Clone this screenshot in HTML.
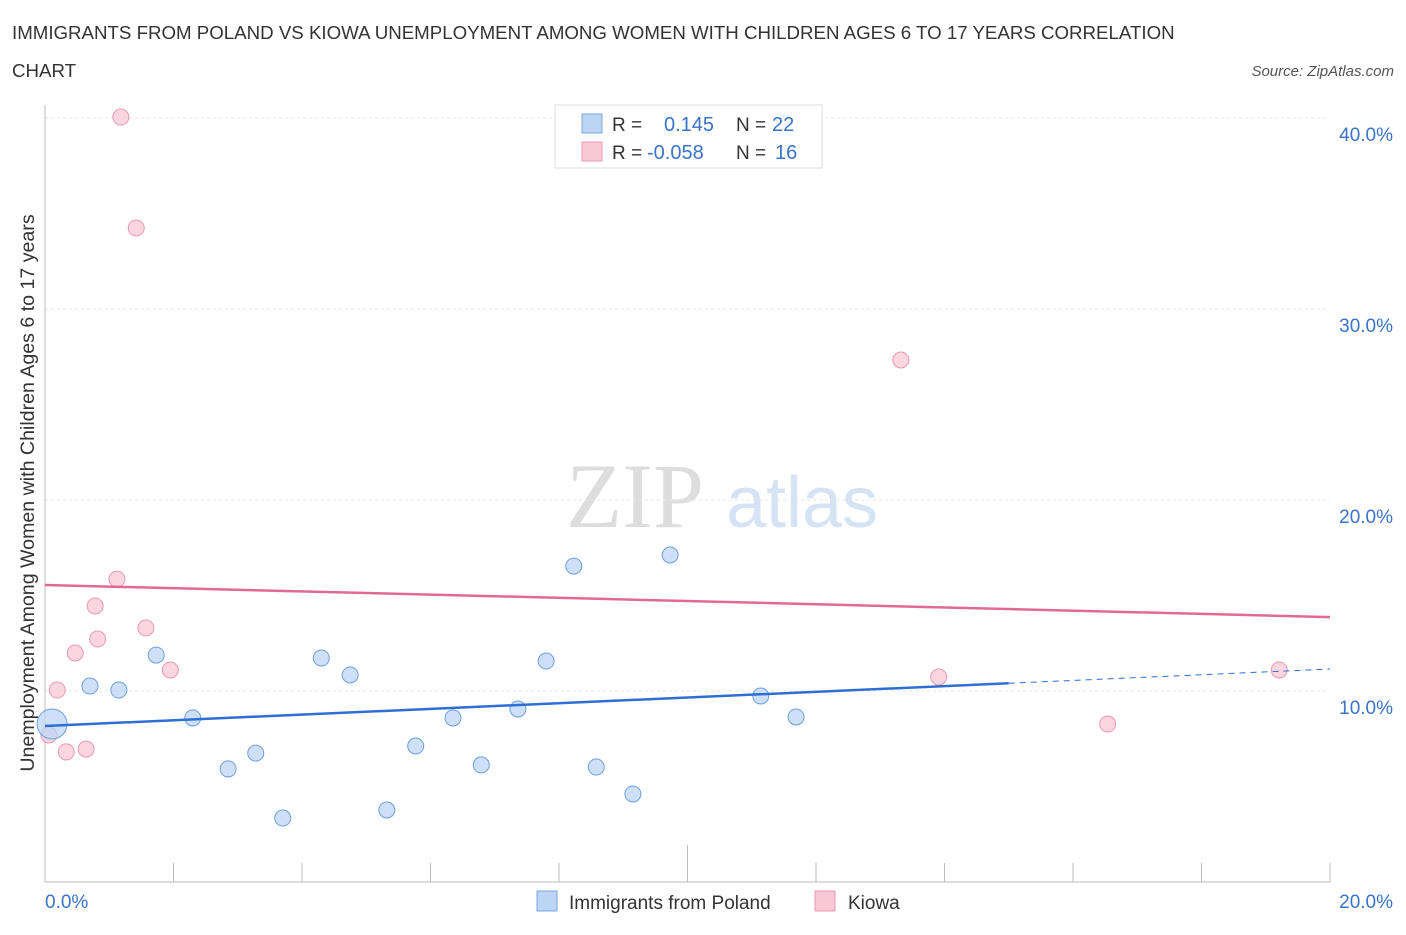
<!DOCTYPE html>
<html><head><meta charset="utf-8"><style>
body{margin:0;background:#fff;font-family:"Liberation Sans",sans-serif}
</style></head><body>
<svg width="1406" height="930" xmlns="http://www.w3.org/2000/svg" font-family="Liberation Sans, sans-serif">
<text x="12" y="39" font-size="18.7" fill="#333">IMMIGRANTS FROM POLAND VS KIOWA UNEMPLOYMENT AMONG WOMEN WITH CHILDREN AGES 6 TO 17 YEARS CORRELATION</text>
<text x="12" y="77" font-size="18.7" fill="#333">CHART</text>
<text x="1394" y="76" font-size="15" fill="#555" font-style="italic" text-anchor="end">Source: ZipAtlas.com</text>
<g><text x="635" y="527" font-size="92" fill="#ddd" font-family="Liberation Serif, serif" text-anchor="middle">ZIP</text><text x="802" y="527" font-size="72" fill="#d5e3f4" text-anchor="middle">atlas</text></g>
<g id="grid"></g>
<g id="axes"></g>
<g id="marks"></g>
<text x="0" y="0" transform="translate(34,493) rotate(-90)" font-size="19.6" fill="#333" text-anchor="middle">Unemployment Among Women with Children Ages 6 to 17 years</text>
<g>
<rect x="555" y="105" width="267" height="63" fill="#fff" stroke="#ddd"/>
<rect x="582" y="114" width="20" height="19" fill="#bcd5f5" stroke="#7aa6dd"/>
<rect x="582" y="142" width="20" height="19" fill="#f9c8d6" stroke="#e99ab2"/>
<text x="612" y="131" font-size="19" fill="#333">R =</text><text x="664" y="131" font-size="20" fill="#3b73c8">0.145</text>
<text x="736" y="131" font-size="19" fill="#333">N =</text><text x="772" y="131" font-size="20" fill="#3b73c8">22</text>
<text x="612" y="159" font-size="19" fill="#333">R =</text><text x="647" y="159" font-size="20" fill="#3b73c8">-0.058</text>
<text x="736" y="159" font-size="19" fill="#333">N =</text><text x="775" y="159" font-size="20" fill="#3b73c8">16</text>
</g>
<g>
<rect x="537" y="891" width="20" height="20" fill="#bcd5f5" stroke="#7aa6dd"/>
<text x="569" y="909" font-size="19" fill="#333">Immigrants from Poland</text>
<rect x="815" y="891" width="20" height="20" fill="#f9c8d6" stroke="#e99ab2"/>
<text x="848" y="909" font-size="19" fill="#333">Kiowa</text>
</g>
</svg>
<script>
const blueX=[0.11,0.70,1.15,1.73,2.30,2.85,3.28,3.70,4.30,4.75,5.32,5.77,6.35,6.79,7.36,7.80,8.23,8.58,9.15,9.73,11.14,11.69];
const blueY=[8.27,10.26,10.05,11.88,8.59,5.92,6.75,3.35,11.73,10.84,3.77,7.12,8.59,6.13,9.06,11.57,16.54,6.02,4.61,17.12,9.74,8.64];
const pinkX=[1.18,1.42,1.12,0.78,0.82,1.57,0.47,1.95,0.19,0.06,0.33,0.64,13.32,13.91,16.54,19.21];
const pinkY=[40.05,34.24,15.86,14.45,12.72,13.30,11.99,11.10,10.05,7.70,6.81,6.96,27.33,10.73,8.27,11.10];
const blueTrend=[8.17,11.15];
const pinkTrend=[15.55,13.87];
const yTicks=[10,20,30,40];
const yTickLabels=["10.0%","20.0%","30.0%","40.0%"];
const xTickLabels=["0.0%","20.0%"];
const NS="http://www.w3.org/2000/svg";
const X=v=>45+v/20*1285, Y=v=>882-v*19.1;
function mk(t,a,p){const e=document.createElementNS(NS,t);for(const k in a)e.setAttribute(k,a[k]);document.getElementById(p).appendChild(e);return e;}
yTicks.forEach((t,i)=>{
 const l=mk('line',{x1:45,x2:1330,y1:Y(t),y2:Y(t),stroke:'#e6e6e6','stroke-width':1,'stroke-dasharray':'3 3'},'grid');
 
 
 const tx=mk('text',{x:1393,y:Y(t)+23,'font-size':19,fill:'#3b73c8','text-anchor':'end'},'axes');
 tx.textContent=yTickLabels[i];
 
 
});
let ax=mk('line',{x1:45,x2:45,y1:105,y2:882,stroke:'#bbb'},'axes');


ax=mk('line',{x1:45,x2:1330,y1:882,y2:882,stroke:'#bbb'},'axes');


for(let i=0;i<=10;i++){const tk=mk('line',{x1:X(i*2),x2:X(i*2),y1:i==5?845:863,y2:882,stroke:'#bbb'},'axes');
 
 }
[[0,'start',45],[20,'end',1393]].forEach((d,i)=>{const t=mk('text',{x:d[2],y:908,'font-size':19,fill:'#3b73c8','text-anchor':d[1]},'axes');t.textContent=xTickLabels[i];
 
 });
function dots(xs,ys,f,s,n){xs.forEach((x,i)=>{const c=mk('circle',{cx:X(x),cy:Y(ys[i]),r:(n=='poland-point'&&i==0)?15:8,fill:f,'fill-opacity':0.75,stroke:s},'marks');
 
 });}
dots(pinkX,pinkY,'#f9c8d6','#e99ab2','kiowa-point');
dots(blueX,blueY,'#bcd5f5','#6e9fdc','poland-point');
const bm=blueTrend[0]+(blueTrend[1]-blueTrend[0])*15/20;
let tl=mk('line',{x1:X(0),y1:Y(blueTrend[0]),x2:X(15),y2:Y(bm),stroke:'#2d6fd3','stroke-width':2.5},'marks');


tl=mk('line',{x1:X(15),y1:Y(bm),x2:X(20),y2:Y(blueTrend[1]),stroke:'#2d6fd3','stroke-width':1,'stroke-dasharray':'6 5'},'marks');


tl=mk('line',{x1:X(0),y1:Y(pinkTrend[0]),x2:X(20),y2:Y(pinkTrend[1]),stroke:'#e06a92','stroke-width':2.5},'marks');


</script>
</body></html>
